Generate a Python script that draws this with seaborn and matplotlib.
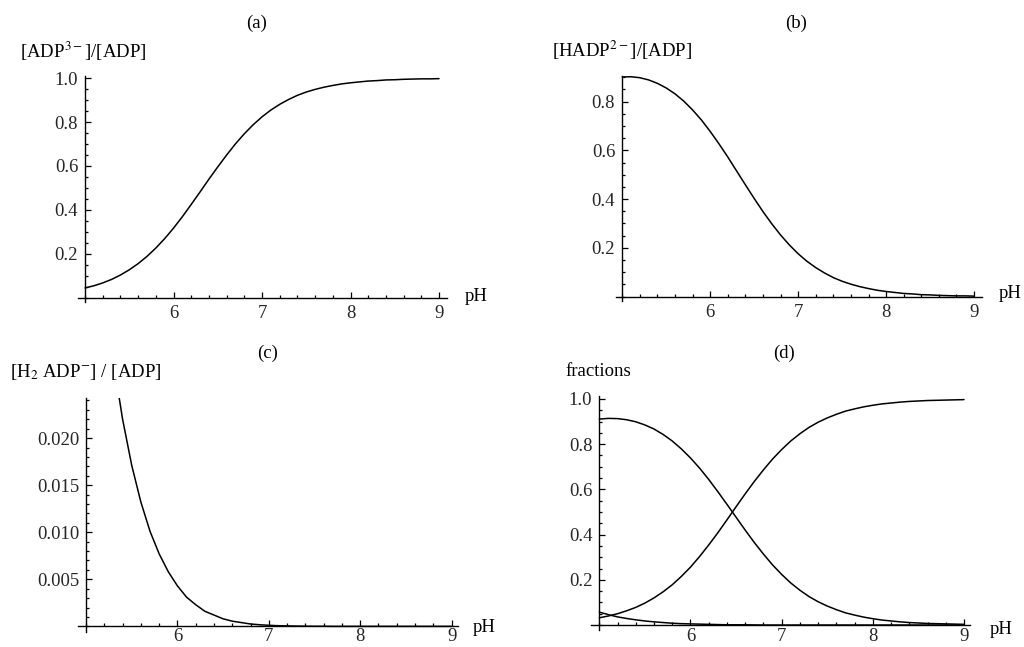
import matplotlib
matplotlib.use("Agg")
import matplotlib.pyplot as plt
import seaborn as sns
from matplotlib.ticker import FixedLocator, MultipleLocator, FormatStrFormatter

# pH grid shared by all curves
ph = [5.0, 5.1, 5.2, 5.3, 5.4, 5.5, 5.6, 5.7, 5.8, 5.9,
      6.0, 6.1, 6.2, 6.3, 6.4, 6.5, 6.6, 6.7, 6.8, 6.9,
      7.0, 7.1, 7.2, 7.3, 7.4, 7.5, 7.6, 7.7, 7.8, 7.9,
      8.0, 8.1, 8.2, 8.3, 8.4, 8.5, 8.6, 8.7, 8.8, 8.9, 9.0]

# (a) [ADP3-]/[ADP]
adp3_a = [0.044, 0.054, 0.067, 0.083, 0.103, 0.127, 0.155, 0.188, 0.226, 0.269,
          0.317, 0.369, 0.425, 0.482, 0.540, 0.596, 0.650, 0.701, 0.747, 0.788,
          0.824, 0.855, 0.881, 0.903, 0.922, 0.937, 0.949, 0.959, 0.967, 0.974,
          0.979, 0.983, 0.987, 0.989, 0.992, 0.993, 0.995, 0.996, 0.997, 0.997, 0.998]

# (b) [HADP2-]/[ADP]
hadp_b = [0.901, 0.902, 0.898, 0.889, 0.875, 0.856, 0.832, 0.802, 0.766, 0.725,
          0.678, 0.627, 0.573, 0.516, 0.459, 0.403, 0.349, 0.299, 0.253, 0.212,
          0.176, 0.145, 0.119, 0.097, 0.078, 0.063, 0.051, 0.041, 0.033, 0.026,
          0.021, 0.017, 0.013, 0.011, 0.008, 0.007, 0.005, 0.004, 0.003, 0.003, 0.002]

# (c) [H2ADP-]/[ADP]
h2adp_c = [0.0569, 0.0452, 0.0357, 0.0281, 0.0220, 0.0171, 0.0132, 0.0101, 0.0077, 0.0058,
           0.0043, 0.0031, 0.0023, 0.0016, 0.0012, 0.0008, 0.00055, 0.0004, 0.00025, 0.00017,
           0.00011, 0.00007, 0.00005, 0.00003, 0.00002, 0.00001, 0.00001, 0.0, 0.0, 0.0,
           0.0, 0.0, 0.0, 0.0, 0.0, 0.0, 0.0, 0.0, 0.0, 0.0, 0.0]

# (d) all three fractions
adp3_d = [0.032, 0.040, 0.050, 0.063, 0.078, 0.097, 0.120, 0.147, 0.178, 0.215,
          0.256, 0.303, 0.354, 0.408, 0.465, 0.523, 0.580, 0.635, 0.686, 0.734,
          0.776, 0.814, 0.846, 0.874, 0.897, 0.916, 0.932, 0.946, 0.956, 0.965,
          0.972, 0.978, 0.982, 0.986, 0.989, 0.991, 0.993, 0.994, 0.995, 0.996, 0.997]
hadp_d = [0.911, 0.914, 0.913, 0.908, 0.899, 0.885, 0.867, 0.843, 0.814, 0.779,
          0.739, 0.694, 0.644, 0.590, 0.534, 0.477, 0.420, 0.365, 0.314, 0.266,
          0.224, 0.186, 0.154, 0.126, 0.103, 0.084, 0.068, 0.054, 0.044, 0.035,
          0.028, 0.022, 0.018, 0.014, 0.011, 0.009, 0.007, 0.006, 0.005, 0.004, 0.003]
h2adp_d = [0.057, 0.046, 0.036, 0.029, 0.023, 0.018, 0.014, 0.011, 0.008, 0.006,
           0.005, 0.004, 0.003, 0.002, 0.001, 0.001, 0.001, 0.0005, 0.0, 0.0,
           0.0, 0.0, 0.0, 0.0, 0.0, 0.0, 0.0, 0.0, 0.0, 0.0,
           0.0, 0.0, 0.0, 0.0, 0.0, 0.0, 0.0, 0.0, 0.0, 0.0, 0.0]

x_major = [6, 7, 8, 9]
y_major_frac = [0.2, 0.4, 0.6, 0.8, 1.0]
y_major_c = [0.005, 0.010, 0.015, 0.020]

sns.set_theme(style="ticks")
plt.rcParams['font.family'] = ['Liberation Serif', 'DejaVu Serif']
plt.rcParams['mathtext.fontset'] = 'stix'

W, H = 1024, 647
fig = plt.figure(figsize=(W / 100, H / 100), dpi=100)
FS = 13.5


def fig_text(x, y, s, **kw):
    """Place text at pixel coordinates (origin top-left)."""
    fig.text(x / W, 1 - y / H, s, fontsize=FS, color='black', **kw)


def make_panel(rect, xlim, ylim, yticks, yminor, yfmt, xpad=5):
    left, top, width, height = rect
    ax = fig.add_axes([left / W, 1 - (top + height) / H, width / W, height / H])
    ax.set_xlim(*xlim)
    ax.set_ylim(*ylim)
    for side in ['top', 'right']:
        ax.spines[side].set_visible(False)
    ax.spines['left'].set_position(('data', 5))
    ax.spines['bottom'].set_position(('data', 0))
    for side in ['left', 'bottom']:
        ax.spines[side].set_linewidth(1.0)
        ax.spines[side].set_color('black')
    ax.xaxis.set_major_locator(FixedLocator(x_major))
    ax.xaxis.set_minor_locator(MultipleLocator(0.2))
    ax.yaxis.set_major_locator(FixedLocator(yticks))
    ax.yaxis.set_minor_locator(MultipleLocator(yminor))
    ax.yaxis.set_major_formatter(FormatStrFormatter(yfmt))
    ax.tick_params(which='both', direction='in', color='black', width=0.9,
                   labelsize=FS)
    ax.tick_params(axis='y', pad=5)
    ax.tick_params(axis='x', pad=xpad)
    ax.tick_params(which='major', length=4.5)
    ax.tick_params(which='minor', length=2.3)
    ax.set_facecolor('white')
    return ax


def draw(ax, y):
    sns.lineplot(x=ph, y=y, ax=ax, color='black', linewidth=1.1, estimator=None)
    ax.set_xlabel('')
    ax.set_ylabel('')


# (a)
ax_a = make_panel((78, 76, 369, 226), (4.92, 9.09), (-0.02, 1.01),
                  y_major_frac, 0.05, '%.1f')
draw(ax_a, adp3_a)
fig_text(257, 23, '(a)', ha='center', va='center')
fig_text(20, 51, r'[ADP$^{3-}$]/[ADP]', ha='left', va='center')
fig_text(465, 297, 'pH', ha='left', va='center')

# (b)
ax_b = make_panel((616, 76, 366, 225), (4.93, 9.09), (-0.018, 0.905),
                  y_major_frac[:4], 0.05, '%.1f')
draw(ax_b, hadp_b)
fig_text(796, 23, '(b)', ha='center', va='center')
fig_text(552, 50, r'[HADP$^{2-}$]/[ADP]', ha='left', va='center')
fig_text(999, 294, 'pH', ha='left', va='center')

# (c)
ax_c = make_panel((78, 398, 380, 234), (4.912, 9.07), (-0.0006, 0.02426),
                  y_major_c, 0.001, '%.3f', xpad=1.5)
draw(ax_c, h2adp_c)
fig_text(268, 353, '(c)', ha='center', va='center')
fig_text(10, 372, r'[H$_2$ ADP$^{-}$] / [ADP]', ha='left', va='center')
fig_text(473, 627, 'pH', ha='left', va='center')

# (d)
ax_d = make_panel((591, 396, 379, 234), (4.909, 9.066), (-0.022, 1.013),
                  y_major_frac, 0.05, '%.1f', xpad=2.5)
for series in [adp3_d, hadp_d, h2adp_d]:
    draw(ax_d, series)
fig_text(784, 353, '(d)', ha='center', va='center')
fig_text(565, 371, 'fractions', ha='left', va='center')
fig_text(990, 629, 'pH', ha='left', va='center')

fig.savefig('out.png', dpi=100, facecolor='white')
